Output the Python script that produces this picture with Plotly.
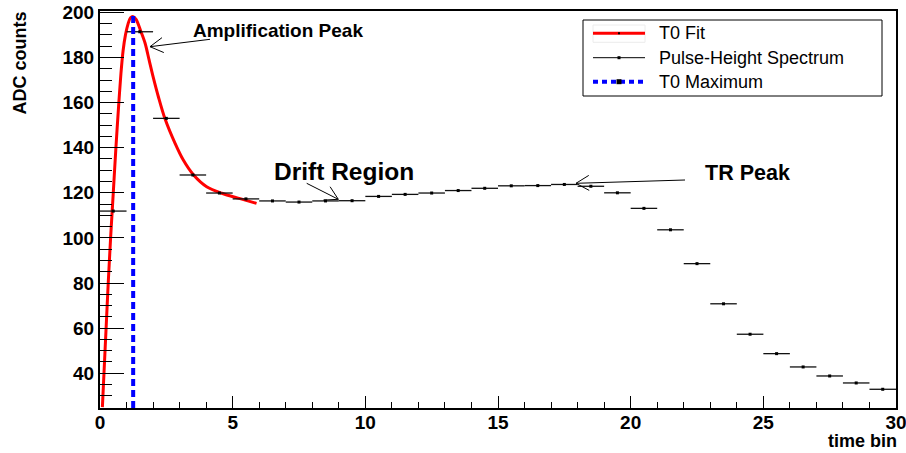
import math
import plotly.graph_objects as go

# ---------------- data ----------------
BIN_LOW_EDGES = list(range(30))
BIN_WIDTH = 1.0
PH_COUNTS = [111.9, 191.4, 153.0, 127.9, 119.9, 117.3, 116.4, 115.9, 116.4, 116.5,
             118.4, 119.3, 119.9, 121.0, 122.0, 123.1, 123.2, 123.7, 122.9, 120.0,
             113.1, 103.6, 88.6, 70.8, 57.3, 48.7, 42.8, 38.8, 35.7, 32.9]

FIT_X = [0.09, 0.15, 0.23, 0.31, 0.40, 0.50, 0.60, 0.71, 0.79, 0.87, 0.96, 1.06, 1.15, 1.25,
         1.36, 1.545, 1.70, 1.85, 2.0, 2.2, 2.45, 2.83, 3.14, 3.52, 4.02, 4.59, 5.28, 5.9]
FIT_Y = [25, 40, 60, 80, 100, 120, 140, 160, 173, 183, 190, 195, 197.6, 198.1,
         196.9, 191.4, 186.3, 178.9, 171.5, 162.6, 152.8, 141.9, 134.5, 128.0, 122.7, 119.8, 117.4, 115.3]

T0_MAX_X = [1.25, 1.25]
T0_MAX_Y = [24.6, 199.2]

Y_TICKS = [40, 60, 80, 100, 120, 140, 160, 180, 200]
X_TICKS = [0, 5, 10, 15, 20, 25, 30]

LEGEND_LABELS = ["T0 Fit", "Pulse-Height Spectrum", "T0 Maximum"]
NOTE_AMP = "Amplification Peak"
NOTE_DRIFT = "Drift Region"
NOTE_TR = "TR Peak"
X_TITLE = "time bin"
Y_TITLE = "ADC counts"

# ---------------- geometry ----------------
W, H = 906, 453
PL, PR, PT, PB = 100, 896, 11, 408
X0, X1 = 0, 30
Y0, Y1 = 24.6, 200.6
FONT = "Liberation Sans, Arial, Helvetica, sans-serif"


def to_px(x, y):
    return (PL + (x - X0) / (X1 - X0) * (PR - PL),
            PB - (y - Y0) / (Y1 - Y0) * (PB - PT))


def to_data(px, py):
    return (X0 + (px - PL) / (PR - PL) * (X1 - X0),
            Y0 + (PB - py) / (PB - PT) * (Y1 - Y0))


def pxp(px):
    return (px - PL) / (PR - PL)


def pyp(py):
    return (PB - py) / (PB - PT)


def arrow(tail_px, tip_px, L=15, ang=30, width=1):
    tx, ty = tail_px
    hx, hy = tip_px
    a = math.atan2(ty - hy, tx - hx)
    out = []
    t = to_data(tx, ty)
    h = to_data(hx, hy)
    out.append(dict(type="line", xref="x", yref="y", x0=t[0], y0=t[1], x1=h[0], y1=h[1],
                    line=dict(color="black", width=width)))
    for s in (1, -1):
        b = a + s * math.radians(ang)
        p = to_data(hx + L * math.cos(b), hy + L * math.sin(b))
        out.append(dict(type="line", xref="x", yref="y", x0=h[0], y0=h[1], x1=p[0], y1=p[1],
                        line=dict(color="black", width=width)))
    return out


fig = go.Figure()

# fit curve
fig.add_trace(go.Scatter(x=FIT_X, y=FIT_Y, mode="lines",
                         line=dict(color="#ff0000", width=3, shape="spline", smoothing=0.9),
                         showlegend=False, cliponaxis=True))

# histogram (pulse height)
centers = [e + BIN_WIDTH / 2 for e in BIN_LOW_EDGES]
fig.add_trace(go.Scatter(x=centers, y=PH_COUNTS, mode="markers",
                         marker=dict(color="black", size=3, symbol="square"),
                         error_x=dict(type="constant", value=BIN_WIDTH / 2, width=0,
                                      thickness=1.3, color="#111111"),
                         showlegend=False))

# T0 maximum line
fig.add_trace(go.Scatter(x=T0_MAX_X, y=T0_MAX_Y, mode="lines",
                         line=dict(color="#0000ff", width=4, dash="7px,4px"),
                         showlegend=False))

shapes = []
# arrows
shapes += arrow((210, 39.3), (150, 46.7))
shapes += arrow((306.7, 183.3), (338.3, 199.3))
shapes += arrow((685, 180), (576, 183.3))

# legend box
LB = (583, 20, 882, 96)
shapes.append(dict(type="rect", xref="paper", yref="paper",
                   x0=pxp(LB[0]), x1=pxp(LB[2]), y0=pyp(LB[3]), y1=pyp(LB[1]),
                   line=dict(color="black", width=1), fillcolor="white", layer="above"))
ROWS = [33.3, 57.7, 81.7]
SX0, SX1, TX = 593, 645, 657
# faint box round T0 fit symbol
shapes.append(dict(type="rect", xref="paper", yref="paper",
                   x0=pxp(SX0), x1=pxp(SX1), y0=pyp(42.3), y1=pyp(25),
                   line=dict(color="#ececec", width=1), layer="above"))
shapes.append(dict(type="line", xref="paper", yref="paper",
                   x0=pxp(SX0), x1=pxp(SX1), y0=pyp(ROWS[0]), y1=pyp(ROWS[0]),
                   line=dict(color="#ff0000", width=3), layer="above"))
shapes.append(dict(type="line", xref="paper", yref="paper",
                   x0=pxp(SX0), x1=pxp(SX1), y0=pyp(ROWS[1]), y1=pyp(ROWS[1]),
                   line=dict(color="black", width=1), layer="above"))
shapes.append(dict(type="line", xref="paper", yref="paper",
                   x0=pxp(SX0), x1=pxp(SX1), y0=pyp(ROWS[2]), y1=pyp(ROWS[2]),
                   line=dict(color="#0000ff", width=4, dash="5px,4px"), layer="above"))
mid = (SX0 + SX1) / 2
for r, s in ((ROWS[0], 1), (ROWS[1], 1.5), (ROWS[2], 2.5)):
    shapes.append(dict(type="rect", xref="paper", yref="paper",
                       x0=pxp(mid - s), x1=pxp(mid + s), y0=pyp(r + s), y1=pyp(r - s),
                       line=dict(width=0), fillcolor="black", layer="above"))

annotations = []
for r, lab in zip(ROWS, LEGEND_LABELS):
    annotations.append(dict(xref="paper", yref="paper", x=pxp(TX), y=pyp(r), text=lab,
                            showarrow=False, xanchor="left", yanchor="middle",
                            font=dict(family=FONT, size=18, color="black")))

ax, ay = to_data(190.7, 30)
annotations.append(dict(xref="x", yref="y", x=ax, y=ay, text="<b>%s</b>" % NOTE_AMP,
                        showarrow=False, xanchor="left", yanchor="middle",
                        font=dict(family=FONT, size=19, color="black")))
dx, dy = to_data(271.5, 171.7)
annotations.append(dict(xref="x", yref="y", x=dx, y=dy, text="<b>%s</b>" % NOTE_DRIFT,
                        showarrow=False, xanchor="left", yanchor="middle",
                        font=dict(family=FONT, size=24.5, color="black")))
tx_, ty_ = to_data(702.5, 173.3)
annotations.append(dict(xref="x", yref="y", x=tx_, y=ty_, text="<b>%s</b>" % NOTE_TR,
                        showarrow=False, xanchor="left", yanchor="middle",
                        font=dict(family=FONT, size=21.5, color="black")))

annotations.append(dict(xref="paper", yref="paper", x=pxp(899), y=pyp(441), text="<b>%s</b>" % X_TITLE,
                        showarrow=False, xanchor="right", yanchor="middle",
                        font=dict(family=FONT, size=18, color="black")))
annotations.append(dict(xref="paper", yref="paper", x=pxp(20), y=pyp(10), text="<b>%s</b>" % Y_TITLE,
                        showarrow=False, xanchor="center", yanchor="top", textangle=-90,
                        font=dict(family=FONT, size=18, color="black")))

axis_common = dict(showgrid=False, zeroline=False, showline=True, linecolor="black",
                   linewidth=2, mirror=True, ticks="inside", tickcolor="black",
                   tickwidth=1.3, automargin=False, ticklabeloverflow="allow",
                   tickfont=dict(family=FONT, size=19, color="black", weight="bold"))

fig.update_layout(
    width=W, height=H,
    margin=dict(l=PL, r=W - PR, t=PT, b=H - PB, pad=0, autoexpand=False),
    paper_bgcolor="white", plot_bgcolor="white",
    showlegend=False,
    xaxis=dict(range=[X0, X1], tickvals=X_TICKS, ticklen=12, ticklabelstandoff=-4,
               minor=dict(dtick=1, tick0=0, ticklen=6, ticks="inside", tickcolor="black", tickwidth=1.3),
               **axis_common),
    yaxis=dict(range=[Y0, Y1], tickvals=Y_TICKS, ticklen=24,
               minor=dict(dtick=5, tick0=0, ticklen=12, ticks="inside", tickcolor="black", tickwidth=1.3),
               **axis_common),
    shapes=shapes,
    annotations=annotations,
)

fig.write_html("out.html")
